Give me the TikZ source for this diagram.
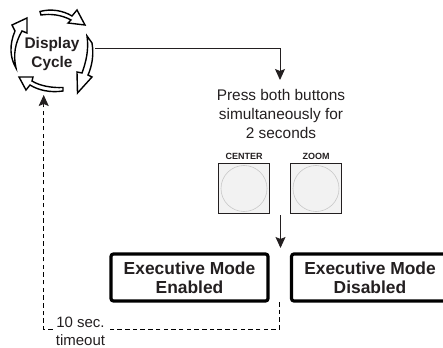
\documentclass[tikz,border=0pt]{standalone}
\usepackage{fontspec}
\setmainfont{Liberation Sans}
\usetikzlibrary{positioning,arrows.meta}
\definecolor{inkdark}{HTML}{231F20}
\definecolor{ringgray}{HTML}{C8C8C8}
\begin{document}
\begin{tikzpicture}[
	x=1pt,y=-1pt,
	modenode/.style={draw=black, line width=3.2pt, rounded corners=2.5pt, minimum width=157pt, minimum height=47pt, align=center, font=\fontsize{17.4}{19}\selectfont\bfseries, text=inkdark, inner sep=0pt},
	buttonnode/.style={draw=inkdark, line width=1pt, fill=gray!10, minimum width=51pt, minimum height=50pt, inner sep=0pt},
	ringnode/.style={circle, draw=ringgray, line width=0.6pt, minimum size=46pt, inner sep=0pt},
	capnode/.style={font=\fontsize{9}{10}\selectfont\bfseries, text=inkdark, inner sep=0pt},
	textnode/.style={font=\fontsize{15.4}{18.8}\selectfont, text=inkdark, align=center, inner sep=0pt},
	flowline/.style={-{Stealth[length=11pt,width=10pt,inset=2pt]}, draw=inkdark, line width=1pt},
	timeoutline/.style={draw=black, line width=1.3pt, dash pattern=on 4.5pt off 3.2pt},
	cyclearrow/.style={draw=black, fill=white, line width=1.4pt, line join=miter},
	]
	\useasboundingbox (0,0) rectangle (443,347);
	%Nodes
	\node[font=\fontsize{15.4}{18.3}\selectfont\bfseries, text=inkdark, align=center, inner sep=0pt] (cycle) at (52,54) {Display\\Cycle};
	\node[textnode] (press) at (281,114) {Press both buttons\\simultaneously for\\2 seconds};
	\node[buttonnode] (center) at (244,188.5) {};
	\node[buttonnode] (zoom) at (316,188.5) {};
	\node[ringnode] (centerring) at (center) {};
	\node[ringnode] (zoomring) at (zoom) {};
	\node[capnode] (centercap) [above=3pt of center] {CENTER};
	\node[capnode] (zoomcap) [above=3pt of zoom] {ZOOM};
	\node[modenode] (enabled) at (189.5,277.5) {Executive Mode\\Enabled};
	\node[modenode] (disabled) at (370,277.5) {Executive Mode\\Disabled};
	\node[font=\fontsize{15}{17.6}\selectfont, text=inkdark, align=center, inner sep=0pt, inner xsep=3pt] (timeout) at (80.5,331.2) {10 sec.\\timeout};
	\coordinate (cycleout) at (95,49);
	\coordinate (pressin) at (280,80);
	\coordinate (modein) at (280.5,248);
	\coordinate (buttonout) at (280.5,215);
	\coordinate (dashstart) at (279.3,302);
	\coordinate (dashright) at (279.3,329.3);
	\coordinate (dashleft) at (43.7,329.3);
	\coordinate (dashtop) at (43.7,106);
	\coordinate (cyclein) at (43.7,95);

	%Cycle arrows
	\draw[cyclearrow] (40,11.5) .. controls (51,8.5) and (63,10.5) .. (72,16) -- (77,10) -- (85,25) -- (68,23) -- (71,20) .. controls (62,15) and (51,13.5) .. (41,15) -- cycle;
	\draw[cyclearrow] (87,36) -- (92,43) .. controls (94,55) and (92,66) .. (88,75) -- (92,77) -- (77.5,93) -- (77,72) -- (82,73) .. controls (86,62) and (89,50) .. (87,36) -- cycle;
	\draw[cyclearrow] (63,87.5) -- (63,91) .. controls (50,93) and (38,90) .. (30,85) -- (26,90) -- (19,77) -- (33,77) -- (32,81) .. controls (40,86) and (52,88) .. (63,87.5) -- cycle;
	\draw[cyclearrow] (16,68) .. controls (10,58) and (9,45) .. (15,31) -- (12,25) -- (27,18) -- (27,33) -- (22,31) .. controls (15,43) and (13,55) .. (16,68) -- cycle;

	%Lines
	\draw[flowline] (cycleout) -| (pressin);
	\draw[flowline] (buttonout) -- (modein);
	\draw[timeoutline] (dashstart) -- (dashright) -- (timeout.east |- dashright);
	\draw[timeoutline] (timeout.west |- dashright) -- (dashleft) -- (dashtop);
	\draw[flowline] (dashtop) -- (cyclein);
\end{tikzpicture}
\end{document}
